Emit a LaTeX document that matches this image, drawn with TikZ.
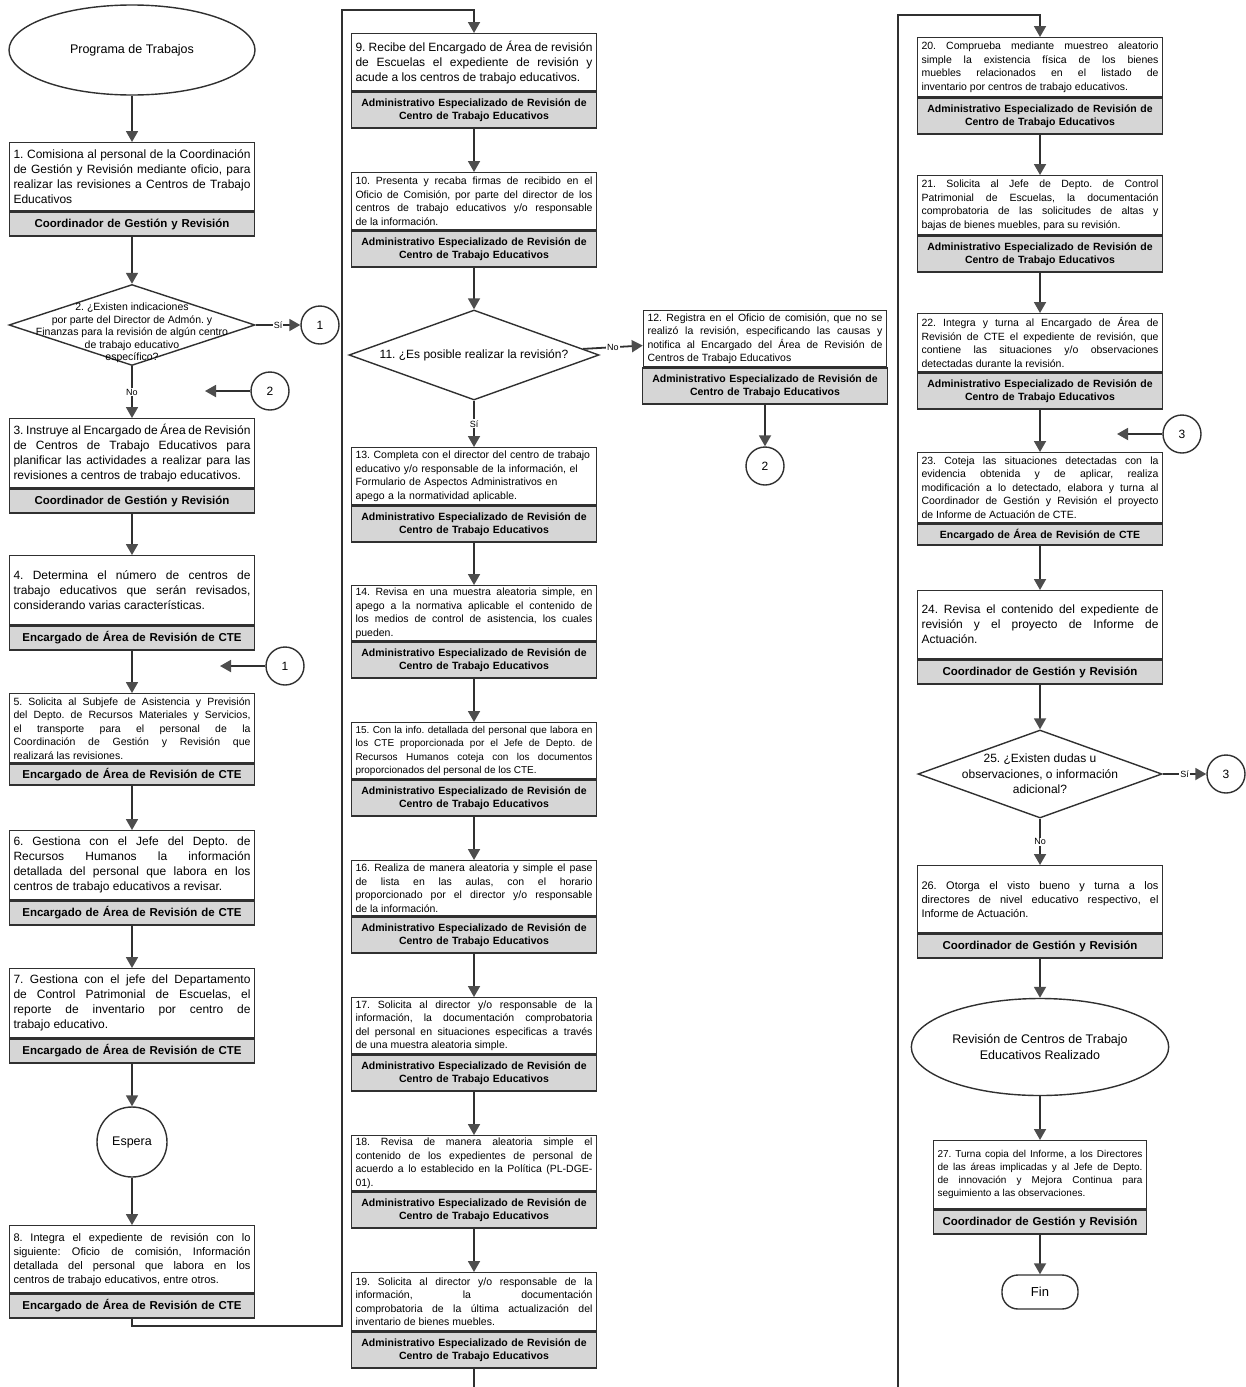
\documentclass[tikz,border=0pt]{standalone}
\usepackage{fontspec}
\setmainfont{Liberation Sans}
\usepackage{tikz}
\usetikzlibrary{arrows.meta, positioning, shapes.geometric}
\setlength{\parindent}{0pt}
\frenchspacing
\hyphenpenalty=10000
\exhyphenpenalty=10000

\definecolor{linea}{HTML}{303030}
\definecolor{banda}{HTML}{D6D6D6}
\definecolor{punta}{HTML}{4D4D4D}

\tikzset{
  task/.style={draw=linea, line width=1.4pt, fill=white, anchor=north, align=justify,
    text width=#1, inner xsep=4pt, inner ysep=1pt, font=\fontsize{12}{15}\selectfont},
  task/.default=237pt,
  ftsmall/.style={font=\fontsize{10.5}{13.5}\selectfont},
  ftmid/.style={font=\fontsize{11}{14}\selectfont},
  role/.style={draw=linea, line width=1.4pt, fill=banda, align=center, text width=#1,
    inner xsep=4pt, inner ysep=0pt, minimum height=24pt, font=\bfseries\fontsize{11.5}{13}\selectfont},
  role/.default=237pt,
  roletwo/.style={role, minimum height=36pt, font=\bfseries\fontsize{10.5}{13.5}\selectfont},
  dec/.style={draw=linea, line width=1.4pt, diamond, inner sep=0pt},
  dtext/.style={align=center, inner sep=0pt},
  term/.style={draw=linea, line width=1.4pt, ellipse, align=center, font=\fontsize{12.5}{15.5}\selectfont},
  conn/.style={draw=linea, line width=1.4pt, circle, minimum size=38pt, inner sep=0pt, font=\fontsize{12}{14}\selectfont},
  lbl/.style={fill=white, inner sep=1pt, font=\fontsize{9}{10}\selectfont},
  flow/.style={draw=linea, line width=1.8pt, -{Triangle[width=12pt,length=11pt,color=punta]}},
  wire/.style={draw=linea, line width=1.8pt}
}

\begin{document}
\begin{tikzpicture}[x=1pt, y=-1pt]
  \useasboundingbox (0,0) rectangle (1246,1387);

  % Left column
  \node[term, minimum width=246pt, minimum height=90pt] (ini) at (132,50) {Programa de Trabajos};

  \node[task, minimum height=68pt] (p1) at (132,142) {1. Comisiona al personal de la Coordinación\linebreak de Gestión y Revisión mediante oficio, para\linebreak realizar las revisiones a Centros de Trabajo\linebreak Educativos};
  \node[role, below=0pt of p1] (r1) {Coordinador de Gestión y Revisión};

  \node[dec, minimum width=246pt, minimum height=81pt] (d2) at (132,325) {};
  \node[dtext, font=\fontsize{10.5}{12.5}\selectfont] (d2t) at ([yshift=-8pt]d2.center) {2. ¿Existen indicaciones\\por parte del Director de Admón. y\\Finanzas para la revisión de algún centro\\de trabajo educativo\\específico?};
  \node[conn] (k1a) at (320,325) {1};
  \node[conn] (k2a) at (270,391) {2};
  \coordinate (k2in) at (205,391);

  \node[task, minimum height=69pt] (p3) at (132,418) {3. Instruye al Encargado de Área de Revisión\linebreak de Centros de Trabajo Educativos para\linebreak planificar las actividades a realizar para las\linebreak revisiones a centros de trabajo educativos.};
  \node[role, below=0pt of p3] (r3) {Coordinador de Gestión y Revisión};

  \node[task, minimum height=69pt] (p4) at (132,555) {4. Determina el número de centros de\linebreak trabajo educativos que serán revisados,\linebreak considerando varias características.};
  \node[role, below=0pt of p4] (r4) {Encargado de Área de Revisión de CTE};
  \node[conn] (k1b) at (285,666) {1};
  \coordinate (k1in) at (220,666);

  \node[task, ftsmall, minimum height=69pt] (p5) at (132,693) {5. Solicita al Subjefe de Asistencia y Previsión\linebreak del Depto. de Recursos Materiales y Servicios,\linebreak el transporte para el personal de la\linebreak Coordinación de Gestión y Revisión que\linebreak realizará las revisiones.};
  \node[role, below=0pt of p5, minimum height=21pt] (r5) {Encargado de Área de Revisión de CTE};

  \node[task, minimum height=69pt] (p6) at (132,830) {6. Gestiona con el Jefe del Depto. de\linebreak Recursos Humanos la información\linebreak detallada del personal que labora en los\linebreak centros de trabajo educativos a revisar.};
  \node[role, below=0pt of p6] (r6) {Encargado de Área de Revisión de CTE};

  \node[task, minimum height=69pt] (p7) at (132,968) {7. Gestiona con el jefe del Departamento\linebreak de Control Patrimonial de Escuelas, el\linebreak reporte de inventario por centro de\linebreak trabajo educativo.};
  \node[role, below=0pt of p7] (r7) {Encargado de Área de Revisión de CTE};

  \node[conn, minimum size=70pt, font=\fontsize{12.5}{15}\selectfont] (esp) at (132,1142) {Espera};

  \node[task, ftmid, minimum height=67pt] (p8) at (132,1225) {8. Integra el expediente de revisión con lo\linebreak siguiente: Oficio de comisión, Información\linebreak detallada del personal que labora en los\linebreak centros de trabajo educativos, entre otros.};
  \node[role, below=0pt of p8] (r8) {Encargado de Área de Revisión de CTE};
  \coordinate (lk1) at (342,10);

  % Middle column
  \node[task, minimum height=57pt] (p9) at (474,33) {9. Recibe del Encargado de Área de revisión\linebreak de Escuelas el expediente de revisión y\linebreak acude a los centros de trabajo educativos.};
  \node[roletwo, below=0pt of p9] (r9) {Administrativo Especializado de Revisión de\\Centro de Trabajo Educativos};

  \node[task, ftsmall, minimum height=57pt] (p10) at (474,172) {10. Presenta y recaba firmas de recibido en el\linebreak Oficio de Comisión, por parte del director de los\linebreak centros de trabajo educativos y/o responsable\linebreak de la información.};
  \node[roletwo, below=0pt of p10] (r10) {Administrativo Especializado de Revisión de\\Centro de Trabajo Educativos};

  \node[dec, minimum width=250pt, minimum height=90pt] (d11) at (474,355) {};
  \node[dtext, font=\fontsize{12}{14}\selectfont] (d11t) at (d11) {11. ¿Es posible realizar la revisión?};

  \node[task=235pt, ftsmall, minimum height=56pt] (p12) at (765,310) {12. Registra en el Oficio de comisión, que no se\linebreak realizó la revisión, especificando las causas y\linebreak notifica al Encargado del Área de Revisión de\linebreak Centros de Trabajo Educativos};
  \node[roletwo=235pt, below=0pt of p12] (r12) {Administrativo Especializado de Revisión de\\Centro de Trabajo Educativos};
  \node[conn] (k2b) at (765,466) {2};

  \node[task, ftsmall, align=left, minimum height=57pt] (p13) at (474,447) {13. Completa con el director del centro de trabajo\\educativo y/o responsable de la información, el\\Formulario de Aspectos Administrativos en\\apego a la normatividad aplicable.};
  \node[roletwo, below=0pt of p13] (r13) {Administrativo Especializado de Revisión de\\Centro de Trabajo Educativos};

  \node[task, ftsmall, minimum height=55pt] (p14) at (474,585) {14. Revisa en una muestra aleatoria simple, en\linebreak apego a la normativa aplicable el contenido de\linebreak los medios de control de asistencia, los cuales\linebreak pueden.};
  \node[roletwo, below=0pt of p14] (r14) {Administrativo Especializado de Revisión de\\Centro de Trabajo Educativos};

  \node[task, font=\fontsize{10}{13.5}\selectfont, minimum height=56pt] (p15) at (474,722) {15. Con la info. detallada del personal que labora en\linebreak los CTE proporcionada por el Jefe de Depto. de\linebreak Recursos Humanos coteja con los documentos\linebreak proporcionados del personal de los CTE.};
  \node[roletwo, below=0pt of p15] (r15) {Administrativo Especializado de Revisión de\\Centro de Trabajo Educativos};

  \node[task, ftsmall, minimum height=55pt] (p16) at (474,860) {16. Realiza de manera aleatoria y simple el pase\linebreak de lista en las aulas, con el horario\linebreak proporcionado por el director y/o responsable\linebreak de la información.};
  \node[roletwo, below=0pt of p16] (r16) {Administrativo Especializado de Revisión de\\Centro de Trabajo Educativos};

  \node[task, ftsmall, minimum height=56pt] (p17) at (474,997) {17. Solicita al director y/o responsable de la\linebreak información, la documentación comprobatoria\linebreak del personal en situaciones especificas a través\linebreak de una muestra aleatoria simple.};
  \node[roletwo, below=0pt of p17] (r17) {Administrativo Especializado de Revisión de\\Centro de Trabajo Educativos};

  \node[task, ftsmall, minimum height=55pt] (p18) at (474,1135) {18. Revisa de manera aleatoria simple el\linebreak contenido de los expedientes de personal de\linebreak acuerdo a lo establecido en la Política (PL-DGE-\linebreak 01).};
  \node[roletwo, below=0pt of p18] (r18) {Administrativo Especializado de Revisión de\\Centro de Trabajo Educativos};

  \node[task, ftsmall, minimum height=58pt] (p19) at (474,1272) {19. Solicita al director y/o responsable de la\linebreak información, la documentación\linebreak comprobatoria de la última actualización del\linebreak inventario de bienes muebles.};
  \node[roletwo, below=0pt of p19] (r19) {Administrativo Especializado de Revisión de\\Centro de Trabajo Educativos};
  \coordinate (bot1) at (474,1387);

  % Right column
  \coordinate (bot2) at (898,1387);
  \coordinate (top2) at (1040,15);

  \node[task, ftsmall, minimum height=59pt] (p20) at (1040,37) {20. Comprueba mediante muestreo aleatorio\linebreak simple la existencia física de los bienes\linebreak muebles relacionados en el listado de\linebreak inventario por centros de trabajo educativos.};
  \node[roletwo, below=0pt of p20] (r20) {Administrativo Especializado de Revisión de\\Centro de Trabajo Educativos};

  \node[task, ftsmall, minimum height=59pt] (p21) at (1040,175) {21. Solicita al Jefe de Depto. de Control\linebreak Patrimonial de Escuelas, la documentación\linebreak comprobatoria de las solicitudes de altas y\linebreak bajas de bienes muebles, para su revisión.};
  \node[roletwo, below=0pt of p21] (r21) {Administrativo Especializado de Revisión de\\Centro de Trabajo Educativos};

  \node[task, ftsmall, minimum height=58pt] (p22) at (1040,313) {22. Integra y turna al Encargado de Área de\linebreak Revisión de CTE el expediente de revisión, que\linebreak contiene las situaciones y/o observaciones\linebreak detectadas durante la revisión.};
  \node[roletwo, below=0pt of p22] (r22) {Administrativo Especializado de Revisión de\\Centro de Trabajo Educativos};
  \node[conn] (k3a) at (1182,434) {3};
  \coordinate (k3in) at (1117,434);

  \node[task, ftsmall, minimum height=70pt] (p23) at (1040,452) {23. Coteja las situaciones detectadas con la\linebreak evidencia obtenida y de aplicar, realiza\linebreak modificación a lo detectado, elabora y turna al\linebreak Coordinador de Gestión y Revisión el proyecto\linebreak de Informe de Actuación de CTE.};
  \node[role, below=0pt of p23, minimum height=21pt, font=\bfseries\fontsize{10.5}{12}\selectfont] (r23) {Encargado de Área de Revisión de CTE};

  \node[task, minimum height=68pt] (p24) at (1040,590) {24. Revisa el contenido del expediente de\linebreak revisión y el proyecto de Informe de\linebreak Actuación.};
  \node[role, below=0pt of p24] (r24) {Coordinador de Gestión y Revisión};

  \node[dec, minimum width=244pt, minimum height=88pt] (d25) at (1040,774) {};
  \node[dtext, font=\fontsize{12}{15.5}\selectfont] (d25t) at (d25) {25. ¿Existen dudas u\\observaciones, o información\\adicional?};
  \node[conn] (k3b) at (1226,774) {3};

  \node[task, ftmid, minimum height=67pt] (p26) at (1040,865) {26. Otorga el visto bueno y turna a los\linebreak directores de nivel educativo respectivo, el\linebreak Informe de Actuación.};
  \node[role, below=0pt of p26] (r26) {Coordinador de Gestión y Revisión};

  \node[term, minimum width=245pt, minimum height=97pt] (fin1) at (1040,1047) {Revisión de Centros de Trabajo\\Educativos Realizado};

  \node[task=205pt, font=\fontsize{10}{13}\selectfont, minimum height=68pt] (p27) at (1040,1140) {27. Turna copia del Informe, a los Directores\linebreak de las áreas implicadas y al Jefe de Depto.\linebreak de innovación y Mejora Continua para\linebreak seguimiento a las observaciones.};
  \node[role=205pt, below=0pt of p27] (r27) {Coordinador de Gestión y Revisión};

  \node[draw=linea, line width=1.4pt, rounded corners=16pt, minimum width=76pt, minimum height=34pt, font=\fontsize{13}{15}\selectfont] (fin) at (1040,1292) {Fin};

  % Draw the connectors
  \draw[flow] (ini) -- (p1);
  \draw[flow] (r1) -- (d2);
  \draw[flow] (d2) -- node[lbl] {Sí} (k1a);
  \draw[flow] (d2) -- node[lbl] {No} (p3);
  \draw[flow] (k2a) -- (k2in);
  \draw[flow] (r3) -- (p4);
  \draw[flow] (r4) -- (p5);
  \draw[flow] (k1b) -- (k1in);
  \draw[flow] (r5) -- (p6);
  \draw[flow] (r6) -- (p7);
  \draw[flow] (r7) -- (esp);
  \draw[flow] (esp) -- (p8);
  \draw[flow] (r8) -- ++(0,20) -| (lk1) -| (p9);

  \draw[flow] (r9) -- (p10);
  \draw[flow] (r10) -- (d11);
  \draw[flow] (d11) -- node[lbl] {No} (p12);
  \draw[flow] (r12) -- (k2b);
  \draw[flow] (d11) -- node[lbl] {Sí} (p13);
  \draw[flow] (r13) -- (p14);
  \draw[flow] (r14) -- (p15);
  \draw[flow] (r15) -- (p16);
  \draw[flow] (r16) -- (p17);
  \draw[flow] (r17) -- (p18);
  \draw[flow] (r18) -- (p19);
  \draw[wire] (r19) -- (bot1);

  \draw[flow] (bot2) |- (top2) -- (p20);
  \draw[flow] (r20) -- (p21);
  \draw[flow] (r21) -- (p22);
  \draw[flow] (r22) -- (p23);
  \draw[flow] (k3a) -- (k3in);
  \draw[flow] (r23) -- (p24);
  \draw[flow] (r24) -- (d25);
  \draw[flow] (d25) -- node[lbl] {Sí} (k3b);
  \draw[flow] (d25) -- node[lbl] {No} (p26);
  \draw[flow] (r26) -- (fin1);
  \draw[flow] (fin1) -- (p27);
  \draw[flow] (r27) -- (fin);
\end{tikzpicture}
\end{document}
